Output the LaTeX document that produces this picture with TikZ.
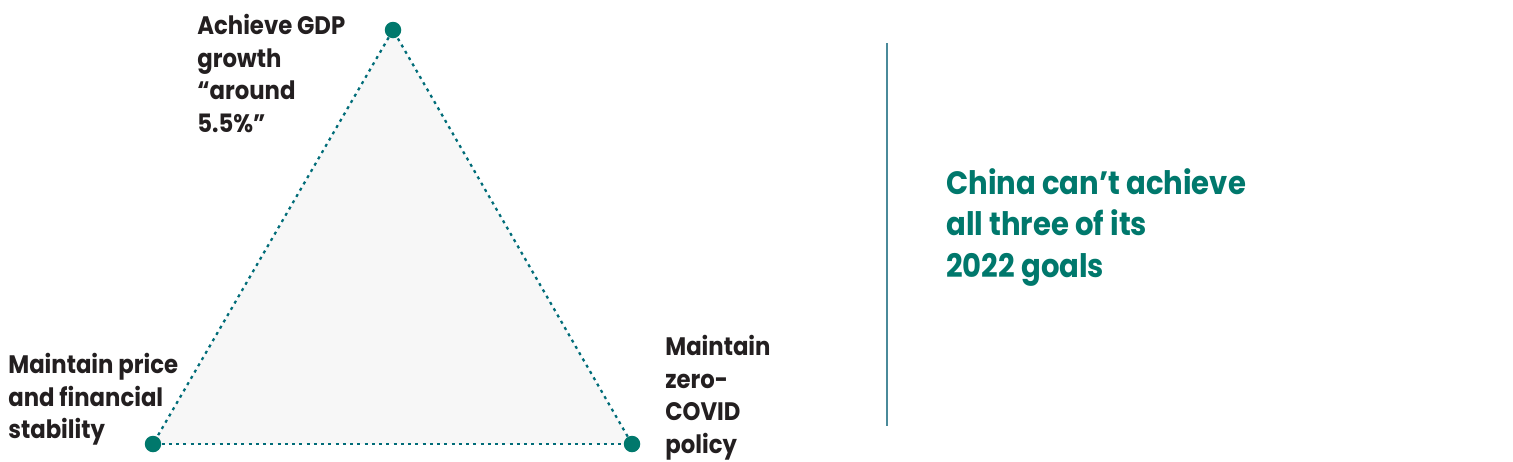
\documentclass[tikz,border=0pt]{standalone}
\usepackage{fontspec}
\setmainfont{Poppins}[FakeStretch=0.9]
\usepackage{tikz}
\usetikzlibrary{positioning,backgrounds}
\definecolor{tealdot}{RGB}{0,120,108}
\definecolor{tealline}{RGB}{0,108,120}
\definecolor{rulecol}{RGB}{74,138,154}
\definecolor{inkblack}{RGB}{35,31,32}
\definecolor{trifill}{RGB}{247,247,247}

\begin{document}
\begin{tikzpicture}[x=0.02cm, y=-0.02cm,
  goal/.style={anchor=north west, inner sep=0pt, align=left, text=inkblack,
               font=\fontsize{14.4}{18.6}\selectfont\bfseries},
  claim/.style={anchor=north west, inner sep=0pt, align=left, text=tealdot,
                font=\fontsize{18.4}{23.6}\selectfont\bfseries},
  dot/.style={circle, fill=tealdot, inner sep=0pt, minimum size=0.33cm},
  dotline/.style={draw=tealline, line width=0.045cm,
                  dash pattern=on 0.06cm off 0.085cm}]
\useasboundingbox (0,0) rectangle (1513,461);

%% the three corners
\node[dot] (gdp)   at (393,30)  {};
\node[dot] (price) at (153,444) {};
\node[dot] (covid) at (632,444) {};

%% triangle (behind the dots)
\begin{scope}[on background layer]
  \fill[trifill] (gdp.center) -- (price.center) -- (covid.center) -- cycle;
  \draw[dotline] (gdp) -- (price);
  \draw[dotline] (price) -- (covid);
  \draw[dotline] (covid) -- (gdp);
\end{scope}

%% labels
\node[goal] (gdplbl)   at (197,14)  {Achieve GDP\\growth\\“around\\5.5\%”};
\node[goal] (pricelbl) at (8,353)   {Maintain price\\and financial\\stability};
\node[goal] (covidlbl) at (665,335) {Maintain\\zero-\\COVID\\policy};

%% divider and statement
\coordinate (ruletop) at (887,43);
\coordinate (rulebot) at (887,426);
\draw[rulecol, line width=0.04cm] (ruletop) -- (rulebot);
\node[claim] (claim) at (946,168) {China can’t achieve\\all three of its\\2022 goals};
\end{tikzpicture}
\end{document}
